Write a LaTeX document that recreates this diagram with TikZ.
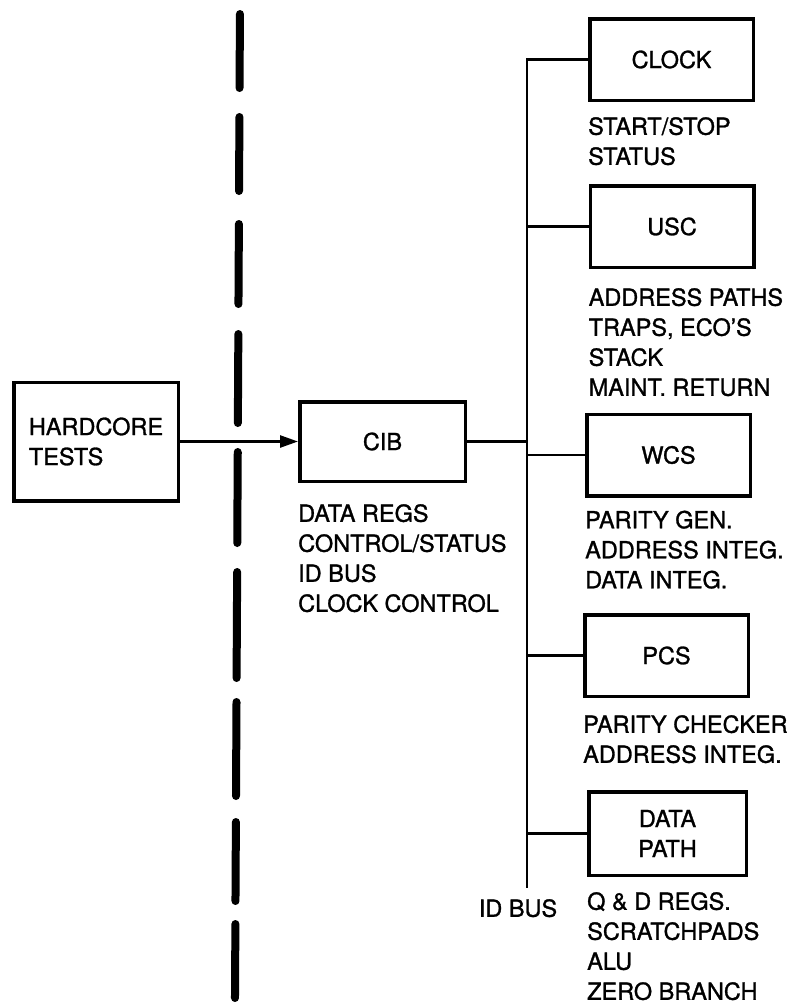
\documentclass[tikz,border=0pt]{standalone}
\usepackage{fontspec}
\setmainfont[AutoFakeBold=1.2]{TeX Gyre Heros}
\usetikzlibrary{arrows.meta,positioning}

\begin{document}
\begin{tikzpicture}[x=1pt, y=-1pt, every node/.style={font=\fontsize{23.5}{30}\selectfont\bfseries},
    unit/.style={draw, line width=3.5pt, minimum width=163.5pt, minimum height=81.5pt, align=center, inner sep=0pt},
    notes/.style={align=left, inner sep=0pt},
    wire/.style={line width=2.5pt}]
        \useasboundingbox (0,0) rectangle (793,1005);

        % Boundary (heavy dashed line)
        \foreach \a/\b in {10/92,113/195,220/308,330/427,448/547,568/682,698/800,818/905,920/1002} {
            \draw[line width=8pt, line cap=round] ({240-0.005*\a},{\a+4}) -- ({240-0.005*\b},{\b-4});
        }

        % Hardcore tests and CIB
        \node[unit, minimum width=164.5pt, minimum height=118.5pt, align=left] (hardcore) at (96,441.5) {HARDCORE\\TESTS};
        \node[unit, minimum width=165.5pt, minimum height=79.5pt] (cib) at (382.5,441.5) {CIB};
        \node[notes, below right=21pt and 0pt of cib.south west] (cibnotes) {DATA REGS\\CONTROL/STATUS\\ID BUS\\CLOCK CONTROL};
        \draw[wire, -{Triangle[length=18pt,width=12pt]}] (hardcore.east) -- (cib.west);

        % Units on the ID bus
        \node[unit] (clock) at (671.5,59.5) {CLOCK};
        \node[notes, below right=15pt and 0pt of clock.south west] (clocknotes) {START/STOP\\STATUS};

        \node[unit] (usc) at (672,226.5) {USC};
        \node[notes, below right=19pt and 0pt of usc.south west] (uscnotes) {ADDRESS PATHS\\TRAPS, ECO'S\\STACK\\MAINT. RETURN};

        \node[unit] (wcs) at (668.5,455) {WCS};
        \node[notes, below right=13pt and 0pt of wcs.south west] (wcsnotes) {PARITY GEN.\\ADDRESS INTEG.\\DATA INTEG.};

        \node[unit] (pcs) at (666.5,655.5) {PCS};
        \node[notes, below right=17pt and 0pt of pcs.south west] (pcsnotes) {PARITY CHECKER\\ADDRESS INTEG.};

        \node[unit, minimum width=157.5pt, minimum height=83.5pt] (datapath) at (667.5,833.5) {DATA\\PATH};
        \node[notes, below right=15pt and 0pt of datapath.south west] (datapathnotes) {Q \& D REGS.\\SCRATCHPADS\\ALU\\ZERO BRANCH};

        % ID bus
        \coordinate (bustop) at (527,59.5);
        \coordinate (busbot) at (527,888);
        \draw[wire] (clock.west) -- (bustop) -- (busbot);
        \draw[wire] (cib.east) -- (cib.east -| bustop);
        \foreach \n in {usc,wcs,pcs,datapath} {
            \draw[wire] (\n.west -| bustop) -- (\n.west);
        }
        \node[notes, below=11pt of busbot, xshift=-9pt] (idbus) {ID BUS};
    \end{tikzpicture}
\end{document}
